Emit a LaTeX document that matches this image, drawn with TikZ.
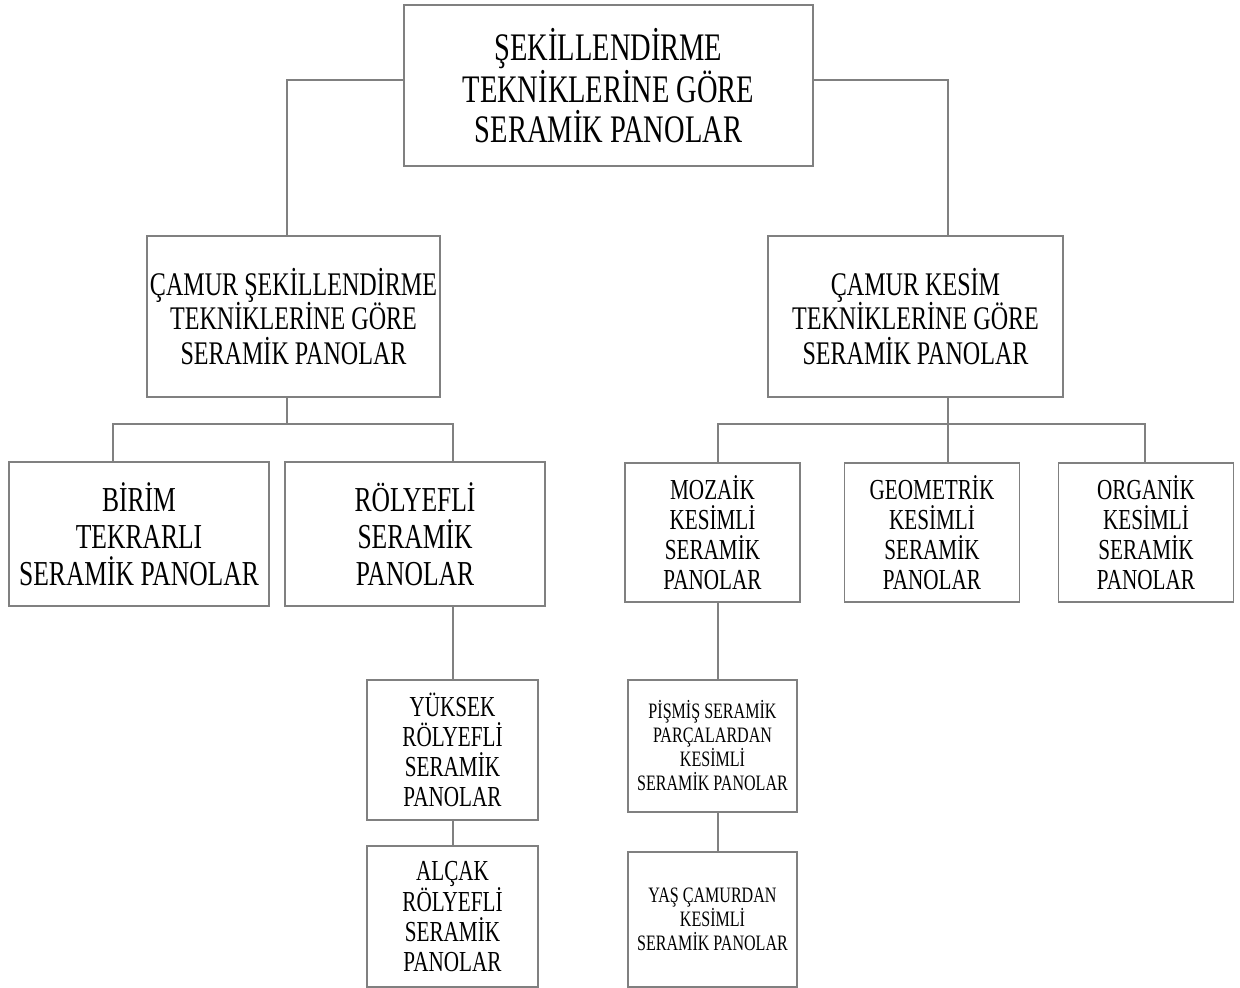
\documentclass[tikz,border=0pt]{standalone}
\usepackage{fontspec}
\setmainfont{Liberation Serif}[FakeStretch=0.73]
\usepackage{tikz}
\usetikzlibrary{calc}

\begin{document}
\begin{tikzpicture}[
        x=1pt, y=-1pt,
        box/.style={draw=black!50, line width=1.4pt, inner sep=0pt, align=center, text=black},
        link/.style={draw=black!50, line width=1.4pt},
        huge/.style={font=\fontsize{39}{40}\selectfont},
        big/.style={font=\fontsize{33}{34.5}\selectfont},
        mid/.style={font=\fontsize{35}{37}\selectfont},
        small/.style={font=\fontsize{29}{30}\selectfont},
        tiny/.style={font=\fontsize{22}{24}\selectfont}
    ]
        \useasboundingbox (0,0) rectangle (1240,988);

        % Top level
        \node[box, huge, minimum width=409pt, minimum height=161pt] (top) at (608.5, 85.5)
            {ŞEKİLLENDİRME\\TEKNİKLERİNE GÖRE\\SERAMİK PANOLAR};

        % Second level
        \node[box, big, minimum width=293pt, minimum height=161pt] (camur) at (293.5, 316.5)
            {ÇAMUR ŞEKİLLENDİRME\\TEKNİKLERİNE GÖRE\\SERAMİK PANOLAR};
        \node[box, big, minimum width=295pt, minimum height=161pt] (kesim) at (915.5, 316.5)
            {ÇAMUR KESİM\\TEKNİKLERİNE GÖRE\\SERAMİK PANOLAR};

        % Third level, left
        \node[box, mid, minimum width=260pt, minimum height=144pt] (birim) at (139, 534)
            {BİRİM\\TEKRARLI\\SERAMİK PANOLAR};
        \node[box, mid, minimum width=260pt, minimum height=144pt] (rolyef) at (415, 534)
            {RÖLYEFLİ\\SERAMİK\\PANOLAR};

        % Third level, right
        \node[box, small, minimum width=175pt, minimum height=139pt] (mozaik) at (712.5, 532.5)
            {MOZAİK\\KESİMLİ\\SERAMİK\\PANOLAR};
        \node[box, small, minimum width=175pt, minimum height=139pt] (geo) at (932, 532.5)
            {GEOMETRİK\\KESİMLİ\\SERAMİK\\PANOLAR};
        \node[box, small, minimum width=175pt, minimum height=139pt] (organik) at (1146, 532.5)
            {ORGANİK\\KESİMLİ\\SERAMİK\\PANOLAR};

        % Fourth level
        \node[box, small, minimum width=171pt, minimum height=140pt] (yuksek) at (452.5, 750)
            {YÜKSEK\\RÖLYEFLİ\\SERAMİK\\PANOLAR};
        \node[box, small, minimum width=171pt, minimum height=141pt] (alcak) at (452.5, 916.5)
            {ALÇAK\\RÖLYEFLİ\\SERAMİK\\PANOLAR};
        \node[box, tiny, minimum width=169pt, minimum height=132pt] (pismis) at (712.5, 746)
            {PİŞMİŞ SERAMİK\\PARÇALARDAN\\KESİMLİ\\SERAMİK PANOLAR};
        \node[box, tiny, minimum width=169pt, minimum height=135pt] (yas) at (712.5, 919.5)
            {YAŞ ÇAMURDAN\\KESİMLİ\\SERAMİK PANOLAR};

        % Bus points
        \coordinate (tl) at (287, 80);
        \coordinate (tr) at (948, 80);
        \coordinate (bl1) at (113, 424);
        \coordinate (bl0) at (287, 424);
        \coordinate (bl2) at (453, 424);
        \coordinate (br1) at (718, 424);
        \coordinate (br0) at (948, 424);
        \coordinate (br3) at (1145, 424);

        % Top to second level
        \draw[link] (top.west |- tl) -- (tl) -- (tl |- camur.north);
        \draw[link] (top.east |- tr) -- (tr) -- (tr |- kesim.north);

        % Left branch
        \draw[link] (bl0 |- camur.south) -- (bl0);
        \draw[link] (bl1 |- birim.north) -- (bl1) -- (bl2) -- (bl2 |- rolyef.north);
        \draw[link] (bl2 |- rolyef.south) -- (bl2 |- yuksek.north);
        \draw[link] (bl2 |- yuksek.south) -- (bl2 |- alcak.north);

        % Right branch
        \draw[link] (br0 |- kesim.south) -- (br0 |- geo.north);
        \draw[link] (br1 |- mozaik.north) -- (br1) -- (br3) -- (br3 |- organik.north);
        \draw[link] (br1 |- mozaik.south) -- (br1 |- pismis.north);
        \draw[link] (br1 |- pismis.south) -- (br1 |- yas.north);
    \end{tikzpicture}
\end{document}
